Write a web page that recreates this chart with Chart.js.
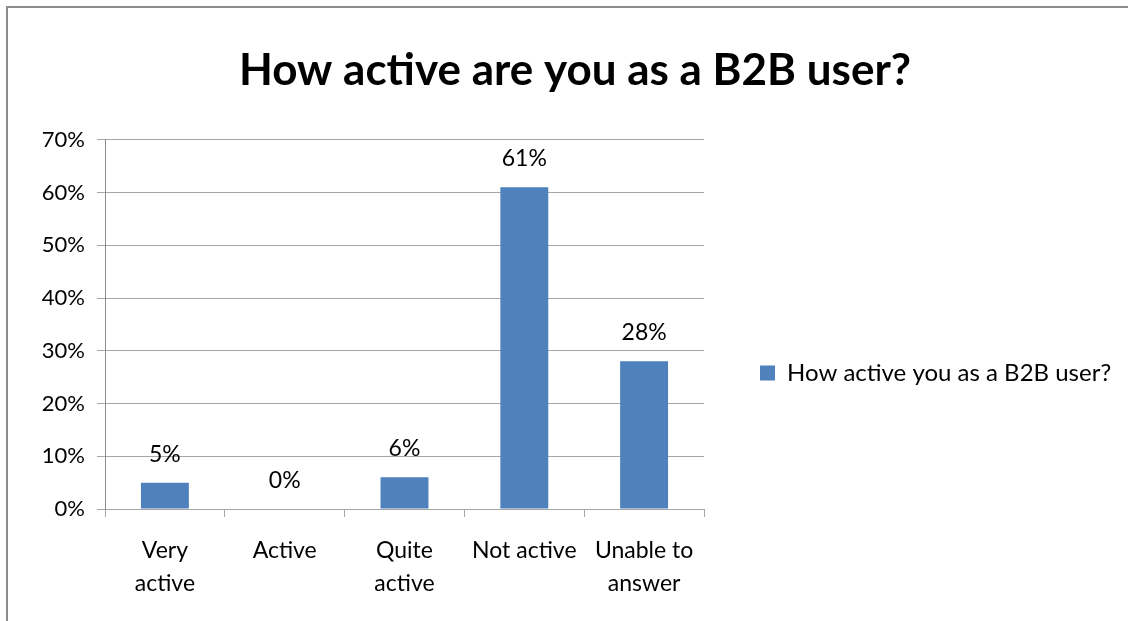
<!DOCTYPE html>
<html>
<head>
<meta charset="utf-8">
<script src="https://cdn.jsdelivr.net/npm/chart.js@4.4.0/dist/chart.umd.min.js"></script>
<style>
  html, body { margin: 0; padding: 0; background: #fff; overflow: hidden; }
  #frame {
    position: absolute; left: 6px; top: 6px;
    width: 1140px; height: 740px;
    border-left: 2px solid #8c8c8c; border-top: 2px solid #8c8c8c;
    overflow: hidden;
  }
</style>
</head>
<body>
<div id="frame"><canvas id="grafico" width="1134" height="730"></canvas></div>
<script>
// data
const categorias = [['Very', 'active'], 'Active', ['Quite', 'active'], 'Not active', ['Unable to', 'answer']];
const valores = [5, 0, 6, 61, 28];
const ticksY = [0, 10, 20, 30, 40, 50, 60, 70];
const nomeSerie = 'How active you as a B2B user?';
const titulo = 'How active are you as a B2B user?';

const FONTE = 'Lato, "Open Sans", sans-serif';

// value labels above the bars
const rotulosValor = {
  id: 'rotulosValor',
  afterDatasetsDraw(chart) {
    const ctx = chart.ctx;
    const meta = chart.getDatasetMeta(0);
    ctx.save();
    ctx.font = '23px ' + FONTE;
    ctx.fillStyle = '#000';
    ctx.textAlign = 'center';
    ctx.textBaseline = 'alphabetic';
    meta.data.forEach(function(bar, i) {
      ctx.fillText(valores[i] + '%', bar.x, bar.y - 21);
    });
    ctx.restore();
  }
};

// wider legend box on the right (default caps it at 1/4 of the width)
const larguraLegenda = {
  id: 'larguraLegenda',
  beforeInit(chart) {
    const fitOriginal = chart.legend.fit;
    chart.legend.fit = function fit() {
      fitOriginal.bind(chart.legend)();
      this.width = 438;
    };
  }
};

const dados = {
  labels: categorias,
  datasets: [{
    label: nomeSerie,
    data: valores,
    backgroundColor: '#4f81bd',
    borderWidth: 0,
    barPercentage: 0.4,
    categoryPercentage: 1
  }]
};

const config = {
  type: 'bar',
  data: dados,
  options: {
    responsive: false,
    devicePixelRatio: 1,
    animation: false,
    layout: { padding: 0 },
    plugins: {
      title: {
        display: true,
        text: titulo,
        color: '#000',
        font: { family: FONTE, size: 44, weight: 'bold', lineHeight: 1.2 },
        padding: { top: 36, bottom: 43 }
      },
      legend: {
        position: 'right',
        labels: {
          color: '#000',
          font: { family: FONTE, size: 24 },
          boxWidth: 15,
          boxHeight: 15,
          padding: 56
        }
      },
      tooltip: { enabled: false }
    },
    scales: {
      x: {
        grid: { display: true, drawOnChartArea: false, drawTicks: true, tickLength: 8, color: '#a6a6a6', offset: true },
        border: { display: true, color: '#a6a6a6' },
        ticks: {
          color: '#000',
          font: { family: FONTE, size: 23, lineHeight: 1.45 },
          padding: 17,
          maxRotation: 0,
          autoSkip: false
        },
        afterFit(scale) { scale.height = 229; }
      },
      y: {
        min: 0,
        max: 70,
        afterBuildTicks(scale) { scale.ticks = ticksY.map(v => ({ value: v })); },
        grid: { color: '#a6a6a6', tickLength: 8 },
        border: { display: true, color: '#8c8c8c' },
        ticks: {
          color: '#000',
          font: { family: FONTE, size: 22 },
          padding: 12,
          callback: v => v + '%'
        },
        afterFit(scale) { scale.width = 97; }
      }
    }
  },
  plugins: [rotulosValor, larguraLegenda]
};

var meuGrafico = new Chart(document.getElementById('grafico'), config);
</script>
</body>
</html>
